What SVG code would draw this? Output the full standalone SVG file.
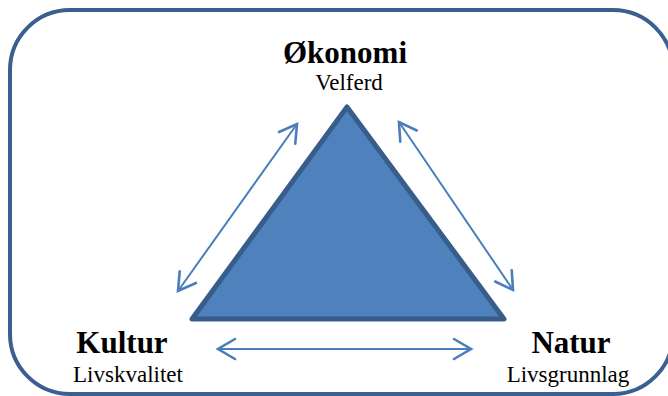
<svg xmlns="http://www.w3.org/2000/svg" width="668" height="396" viewBox="0 0 668 396">
  <style>
    text { font-family: 'Liberation Serif', 'DejaVu Serif', serif; fill: #000; text-anchor: middle; }
    .title { font-weight: bold; font-size: 31px; }
    .sub { font-size: 23px; }
    .conn { stroke: #4A7EBB; stroke-width: 2; fill: none; marker-start: url(#head); marker-end: url(#head); }
  </style>
  <defs>
    <marker id="head" viewBox="-20 -12 24 24" refX="0" refY="0" markerWidth="24" markerHeight="24" markerUnits="userSpaceOnUse" orient="auto-start-reverse">
      <path d="M -17 -10 L 0 0 L -17 10" fill="none" stroke="#4A7EBB" stroke-width="2.6" stroke-linecap="round" stroke-linejoin="miter"/>
    </marker>
  </defs>
  <rect x="10" y="10" width="663" height="384" rx="60" ry="60" fill="#FFFFFF" stroke="#3B6090" stroke-width="4"/>
  <g id="triangle">
    <path d="M 347 107 L 504 319 L 192 319 Z" fill="#4F81BD" stroke="#385D8A" stroke-width="5" stroke-linejoin="round"/>
  </g>
  <g id="connectors">
    <line class="conn" x1="178" y1="291" x2="297" y2="124"/>
    <line class="conn" x1="399" y1="122" x2="513" y2="290"/>
    <line class="conn" x1="218" y1="349" x2="471" y2="349"/>
  </g>
  <g id="okonomi">
    <text class="title" x="345" y="63">Økonomi</text>
    <text class="sub" x="349" y="90">Velferd</text>
  </g>
  <g id="kultur">
    <text class="title" x="122" y="353">Kultur</text>
    <text class="sub" x="128" y="382">Livskvalitet</text>
  </g>
  <g id="natur">
    <text class="title" x="571" y="353">Natur</text>
    <text class="sub" x="568" y="382">Livsgrunnlag</text>
  </g>
</svg>
